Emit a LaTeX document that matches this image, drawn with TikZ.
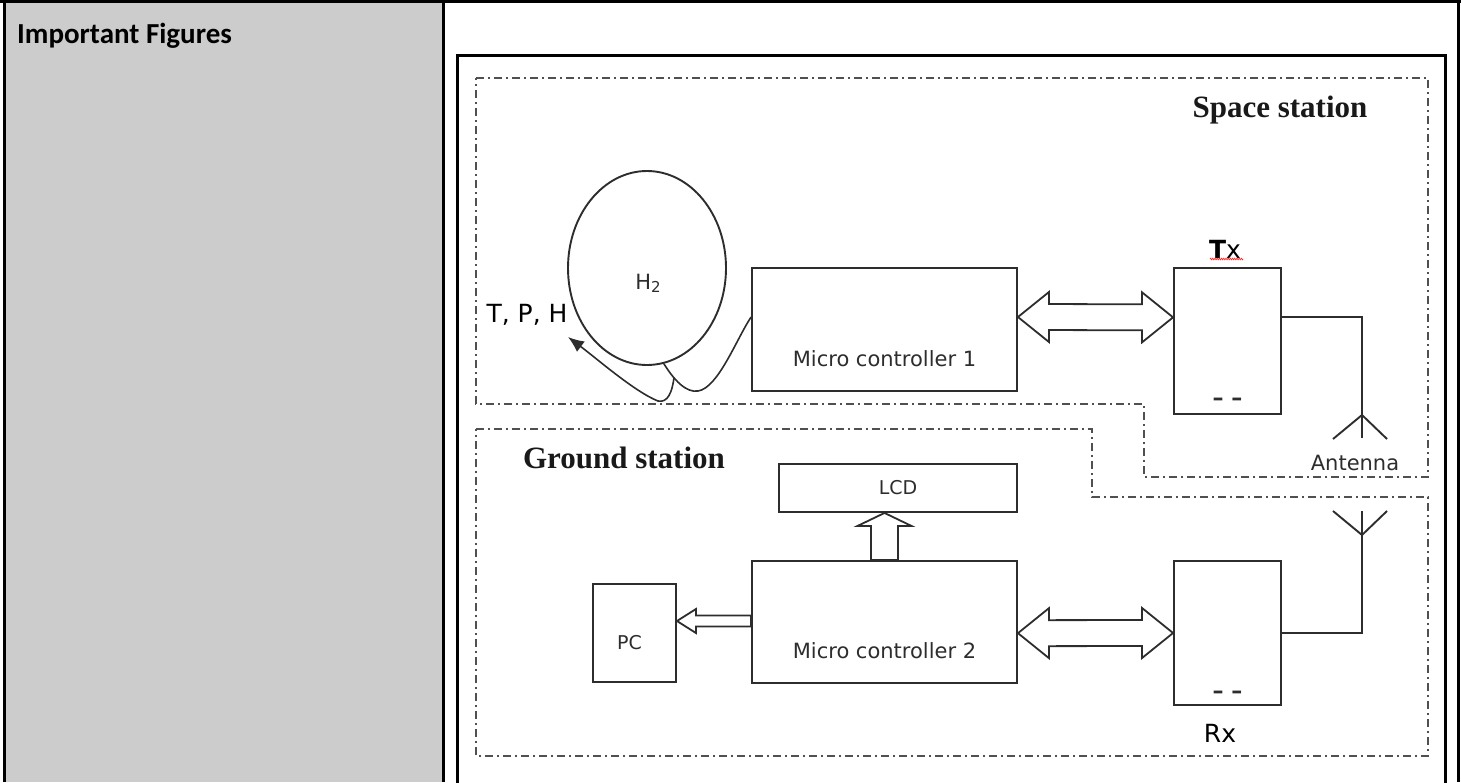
\documentclass[tikz,border=0pt]{standalone}
\usepackage{fontspec}
\usetikzlibrary{shapes.geometric,arrows.meta,calc,decorations.pathmorphing}
\newfontfamily\headfont{Carlito}
\newfontfamily\labelfont{DejaVu Sans}
\newfontfamily\zonefont{Liberation Serif}
\definecolor{cellgray}{RGB}{204,204,204}
\definecolor{ink}{RGB}{45,45,45}
\definecolor{zonegray}{RGB}{80,80,80}

% hollow double arrow between two points on one level
\newcommand{\dblarrow}[2]{%
  \draw[hollow] let \p1=(#1), \p2=(#2) in
    (\p1) -- (\x1+31pt,\y1+25pt) -- (\x1+31pt,\y1+13pt) -- (\x2-31pt,\y2+13pt)
    -- (\x2-31pt,\y2+25pt) -- (\p2) -- (\x2-31pt,\y2-25pt) -- (\x2-31pt,\y2-13pt)
    -- (\x1+31pt,\y1-13pt) -- (\x1+31pt,\y1-25pt) -- cycle;}

\begin{document}
\begin{tikzpicture}[x=1pt, y=-1pt,
    box/.style={rectangle, draw=ink, line width=1.9pt, inner sep=0pt},
    lbl/.style={font=\labelfont\fontsize{21}{25}\selectfont, text=ink, inner sep=0pt},
    small/.style={font=\labelfont\fontsize{19}{23}\selectfont, text=ink, inner sep=0pt},
    big/.style={font=\labelfont\fontsize{25}{30}\selectfont, text=black, inner sep=0pt},
    zonelbl/.style={font=\zonefont\bfseries\fontsize{31}{36}\selectfont, text=black!90, inner sep=0pt},
    zone/.style={draw=zonegray, line width=1.7pt, dash pattern=on 8pt off 4pt on 2pt off 4pt},
    hollow/.style={draw=ink, line width=1.8pt, line join=miter},
    wire/.style={draw=ink, line width=1.9pt},
]
\useasboundingbox (0,0) rectangle (1461,782);
\clip (0,0) rectangle (1461,782);

% === TABLE ===
\fill[cellgray] (4.5,3) rectangle (443,782);
\draw[line width=3pt] (0,1.5) -- (1461,1.5);
\draw[line width=3pt] (4.5,0) -- (4.5,782);
\draw[line width=3pt] (443,0) -- (443,782);
\draw[line width=3pt] (1458,0) -- (1458,782);
\node[font=\headfont\bfseries\fontsize{29}{34}\selectfont, anchor=base west, inner sep=0pt] (title) at (17,43) {Important Figures};

% figure frame
\draw[line width=3pt] (457,55) rectangle (1445,800);

% === SPACE STATION ===
\draw[zone] (476,78) -- (1428,78) -- (1428,477) -- (1144,477) -- (1144,404) -- (476,404) -- cycle;
\node[zonelbl] (space) at (1280,110) {Space station};

\node[ellipse, draw=ink, line width=1.9pt, minimum width=158pt, minimum height=194pt, inner sep=0pt] (tank) at (647,268) {};
\node[lbl] (h2) at (648,283) {H\raisebox{-3pt}{\fontsize{15}{15}\selectfont 2}};
\node[big] (tph) at (527,315) {T, P, H};

\node[box, minimum width=265pt, minimum height=123pt] (mc1) at (884.5,329.5) {};
\node[lbl] at ($(mc1.south)+(0,-33)$) {Micro controller 1};

\node[box, minimum width=107pt, minimum height=146pt] (tx) at (1227.5,341) {};
\node[big] (txl) at (1225,249) {\textbf{T}x};
\draw[red!85, line width=0.7pt, decorate, decoration={zigzag, amplitude=0.8pt, segment length=2.2pt}] (1210,259) -- (1243,259);
\node[small, font=\labelfont\bfseries\fontsize{22}{26}\selectfont] at ($(tx.south)+(0,-13)$) {– –};

% pipe and sensor arrow
\coordinate (mc1in) at ($(mc1.north west)!0.4!(mc1.south west)$);
\draw[wire, line width=1.6pt] (tank.-80) .. controls (674,380) and (686,393) .. (698,391)
    .. controls (718,388) and (736,340) .. (mc1in);
\coordinate (pipe) at (674,378);
\draw[wire, line width=1.6pt, -{Latex[length=16pt, width=13pt]}] (pipe) .. controls (672,392) and (668,403) .. (658,401)
    .. controls (635,392) and (596,358) .. (568,337);

% link MC1 <-> Tx
\coordinate (mc1out) at ($(mc1.north east)!0.4!(mc1.south east)$);
\coordinate (txin) at ($(tx.north west)!0.34!(tx.south west)$);
\dblarrow{mc1out}{txin}

% Tx antenna
\coordinate (txout) at ($(tx.north east)!0.34!(tx.south east)$);
\coordinate (ant1) at (1362,415);
\draw[wire] (txout) -| (ant1) -- (1362,438);
\draw[wire] (1333,439) -- (ant1) -- (1387,439);
\node[lbl] (antl) at (1355,463) {Antenna};

% === GROUND STATION ===
\draw[zone] (476,429) -- (1092,429) -- (1092,497) -- (1428,497) -- (1428,756) -- (476,756) -- cycle;
\node[zonelbl] (ground) at (624,458) {Ground station};

\node[box, minimum width=238pt, minimum height=48pt] (lcd) at (898,488) {};
\node[small] at (lcd.center) {LCD};

\node[box, minimum width=265pt, minimum height=122pt] (mc2) at (884.5,622) {};
\node[lbl] at ($(mc2.south)+(0,-33)$) {Micro controller 2};

\node[box, minimum width=83pt, minimum height=98pt] (pc) at (634.5,633) {};
\node[small] at ($(pc.center)+(-5,10)$) {PC};

\node[box, minimum width=107pt, minimum height=144pt] (rx) at (1227.5,633) {};
\node[small, font=\labelfont\bfseries\fontsize{22}{26}\selectfont] at ($(rx.south)+(0,-11)$) {– –};
\node[big] (rxl) at (1220,733) {Rx};

% MC2 -> LCD
\coordinate (lcdin) at (lcd.south -| mc2.north);
\draw[hollow] let \p1=(mc2.north), \p2=(lcdin) in
  (\p2) -- (\x2-27pt,\y2-13pt) -- (\x2-13.5pt,\y2-13pt) -- (\x1-13.5pt,\y1)
  -- (\x1+13.5pt,\y1) -- (\x2+13.5pt,\y2-13pt) -- (\x2+27pt,\y2-13pt) -- cycle;

% MC2 -> PC
\coordinate (pcin) at ($(pc.north east)!0.38!(pc.south east)$);
\draw[hollow] let \p1=(mc2.west), \p2=(pcin) in
  (\p2) -- (\x2+19pt,\y2+12pt) -- (\x2+19pt,\y2+5.5pt) -- (\x1,\y2+5.5pt)
  -- (\x1,\y2-5.5pt) -- (\x2+19pt,\y2-5.5pt) -- (\x2+19pt,\y2-12pt) -- cycle;

% link MC2 <-> Rx
\coordinate (mc2out) at ($(mc2.north east)!0.59!(mc2.south east)$);
\dblarrow{mc2out}{rx.west}

% Rx antenna
\coordinate (ant2) at (1362,535);
\draw[wire] (rx.east) -| (ant2) -- (1362,511);
\draw[wire] (1333,511) -- (ant2) -- (1387,511);

\end{tikzpicture}
\end{document}
